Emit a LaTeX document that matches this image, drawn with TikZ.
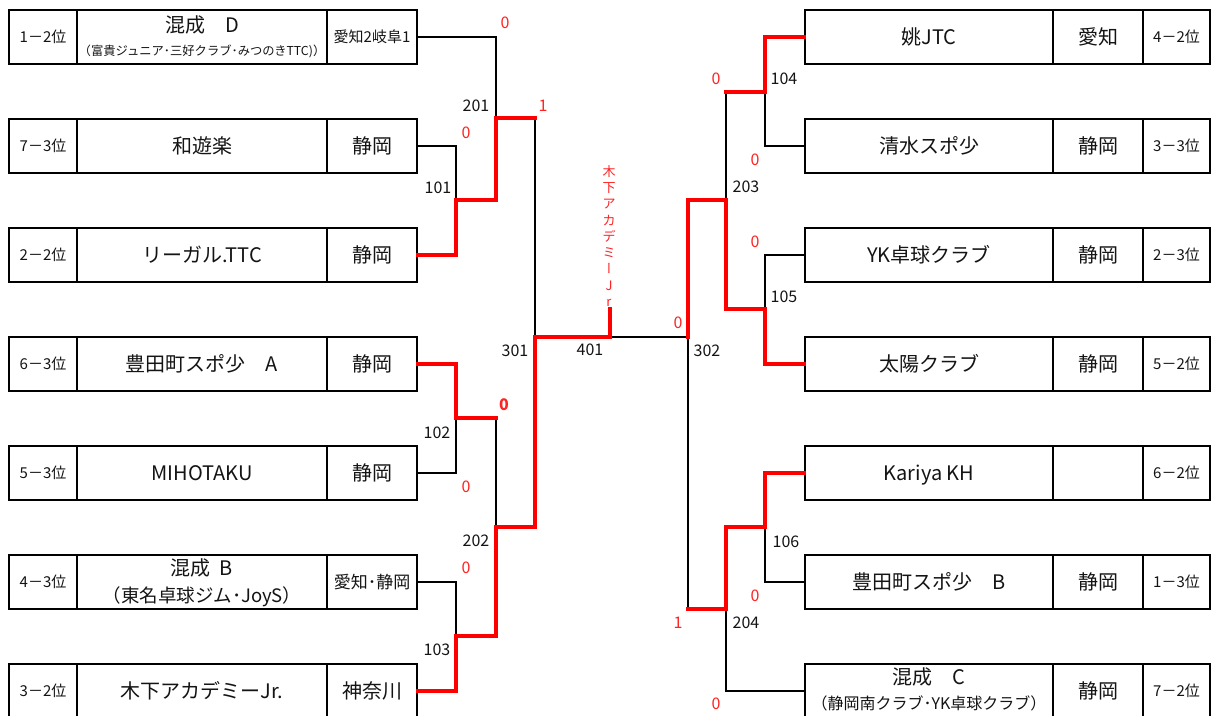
\documentclass[tikz,border=0pt]{standalone}
\usepackage{fontspec}
\setmainfont{Noto Sans CJK JP}
\newfontfamily\vertfont[RawFeature=+vert]{Noto Sans CJK JP}
\definecolor{winred}{RGB}{255,0,0}
\definecolor{scorered}{RGB}{255,35,35}
\definecolor{inkc}{RGB}{20,20,20}
\tikzset{
  cell/.style={draw=black, line width=2pt, minimum height=54pt, inner sep=0pt, text depth=0pt, text=inkc},
  rankc/.style={cell, font=\fontsize{15}{18}\selectfont, text height=11pt},
  namec/.style={cell, font=\fontsize{20}{24}\selectfont, text height=15pt},
  prefc/.style={cell, minimum width=90pt, font=\fontsize{20}{24}\selectfont, text height=15pt},
  lrank/.style={rankc, minimum width=68pt},
  rrank/.style={rankc, minimum width=67pt},
  lname/.style={namec, minimum width=250pt},
  rname/.style={namec, minimum width=248pt},
  txt/.style={inner sep=0pt, text depth=0pt, text=inkc},
  mnum/.style={txt, font=\fontsize{16}{18}\selectfont, text height=11.5pt},
  score/.style={inner sep=0pt, text depth=0pt, text=scorered, font=\fontsize{16}{18}\selectfont, text height=11.5pt},
  bline/.style={draw=black, line width=2pt},
  rline/.style={draw=winred, line width=3.6pt, line cap=rect, line join=miter},
}
\begin{document}
\begin{tikzpicture}[x=1pt,y=-1pt]
\useasboundingbox[fill=white] (0,0) rectangle (1213,715);

% ---------------- left teams ----------------
\node[lrank] (L1r) at (43,37) {1－2位};
\node[lname] (L1n) at (202,37) {};
\node[prefc, font=\fontsize{15}{18}\selectfont, text height=11pt] (L1p) at (372,37) {愛知2岐阜1};
\node[txt, font=\fontsize{20}{24}\selectfont, text height=15pt] (L1a) at (202,25) {混成　D};
\node[txt, font=\fontsize{12.3}{14}\selectfont, text height=9pt] (L1b) at (202,51) {（富貴ジュニア･三好クラブ･みつのきTTC)）};

\node[lrank] (L2r) at (43,146) {7－3位};
\node[lname] (L2n) at (202,146) {和遊楽};
\node[prefc] (L2p) at (372,146) {静岡};

\node[lrank] (L3r) at (43,255) {2－2位};
\node[lname] (L3n) at (202,255) {リーガル.TTC};
\node[prefc] (L3p) at (372,255) {静岡};

\node[lrank] (L4r) at (43,364) {6－3位};
\node[lname] (L4n) at (202,364) {豊田町スポ少　A};
\node[prefc] (L4p) at (372,364) {静岡};

\node[lrank] (L5r) at (43,473) {5－3位};
\node[lname] (L5n) at (202,473) {MIHOTAKU};
\node[prefc] (L5p) at (372,473) {静岡};

\node[lrank] (L6r) at (43,582) {4－3位};
\node[lname] (L6n) at (202,582) {};
\node[prefc, font=\fontsize{17}{20}\selectfont, text height=12.5pt] (L6p) at (372,582) {愛知･静岡};
\node[txt, font=\fontsize{20}{24}\selectfont, text height=15pt] (L6a) at (202,568) {混成\hspace{0.45em}B};
\node[txt, font=\fontsize{18.5}{22}\selectfont, text height=14pt] (L6b) at (202,595) {（東名卓球ジム･JoyS）};

\node[lrank] (L7r) at (43,691) {3－2位};
\node[lname] (L7n) at (202,691) {木下アカデミーJr.};
\node[prefc] (L7p) at (372,691) {神奈川};

% ---------------- right teams ----------------
\node[rname] (R1n) at (929,37) {姚JTC};
\node[prefc] (R1p) at (1098,37) {愛知};
\node[rrank] (R1r) at (1176.5,37) {4－2位};

\node[rname] (R2n) at (929,146) {清水スポ少};
\node[prefc] (R2p) at (1098,146) {静岡};
\node[rrank] (R2r) at (1176.5,146) {3－3位};

\node[rname] (R3n) at (929,255) {YK卓球クラブ};
\node[prefc] (R3p) at (1098,255) {静岡};
\node[rrank] (R3r) at (1176.5,255) {2－3位};

\node[rname] (R4n) at (929,364) {太陽クラブ};
\node[prefc] (R4p) at (1098,364) {静岡};
\node[rrank] (R4r) at (1176.5,364) {5－2位};

\node[rname] (R5n) at (929,473) {Kariya KH};
\node[prefc] (R5p) at (1098,473) {};
\node[rrank] (R5r) at (1176.5,473) {6－2位};

\node[rname] (R6n) at (929,582) {豊田町スポ少　B};
\node[prefc] (R6p) at (1098,582) {静岡};
\node[rrank] (R6r) at (1176.5,582) {1－3位};

\node[rname] (R7n) at (929,691) {};
\node[prefc] (R7p) at (1098,691) {静岡};
\node[rrank] (R7r) at (1176.5,691) {7－2位};
\node[txt, font=\fontsize{20}{24}\selectfont, text height=15pt] (R7a) at (929,677) {混成　C};
\node[txt, font=\fontsize{16}{19}\selectfont, text height=12pt] (R7b) at (929,703) {（静岡南クラブ･YK卓球クラブ）};

% ---------------- junctions ----------------
\coordinate (a101) at (456,200); \coordinate (o101) at (496,200);
\coordinate (a102) at (456,418); \coordinate (o102) at (496,418);
\coordinate (a103) at (456,636); \coordinate (o103) at (496,636);
\coordinate (a201) at (496,118); \coordinate (o201) at (535,118);
\coordinate (a202) at (496,527); \coordinate (o202) at (535,527);
\coordinate (a301) at (535,337);
\coordinate (fin) at (610,337);  \coordinate (finup) at (610,309);
\coordinate (a104) at (765,92);  \coordinate (o104) at (726,92);
\coordinate (a105) at (765,309); \coordinate (o105) at (726,309);
\coordinate (a106) at (765,527); \coordinate (o106) at (726,527);
\coordinate (a203) at (726,200); \coordinate (o203) at (688,200);
\coordinate (a204) at (726,609); \coordinate (o204) at (688,609);
\coordinate (a302) at (688,337);

% ---------------- black connectors ----------------
\draw[bline] (L1p.east) -| (a201);
\draw[bline] (L2p.east) -| (a101);
\draw[bline] (L5p.east) -| (a102);
\draw[bline] (L6p.east) -| (a103);
\draw[bline] (o102) -- (a202);
\draw[bline] (o201) -- (a301);
\draw[bline] (fin) -- (a302);
\draw[bline] (R2n.west) -| (a104);
\draw[bline] (o104) -- (a203);
\draw[bline] (R3n.west) -| (a105);
\draw[bline] (a302) -- (o204);
\draw[bline] (R6n.west) -| (a106);
\draw[bline] (R7n.west) -| (a204);

% ---------------- winner paths ----------------
\draw[rline] (L3p.east) -| (a101) -- (o101) -- (a201) -- (o201);
\draw[rline] (L4p.east) -| (a102) -- (o102);
\draw[rline] (L7p.east) -| (a103) -- (o103) -- (a202) -- (o202) -- (a301) -- (fin) -- (finup);
\draw[rline] (R1n.west) -| (a104) -- (o104);
\draw[rline] (a302) -- (o203) -- (a203) -- (o105) -- (a105) |- (R4n.west);
\draw[rline] (R5n.west) -| (a106) -- (o106) -- (a204) -- (o204);

% ---------------- match numbers ----------------
\node[mnum] (n101) at (438,188) {101};
\node[mnum] (n102) at (437,433) {102};
\node[mnum] (n103) at (437,650) {103};
\node[mnum] (n201) at (476,106) {201};
\node[mnum] (n202) at (476,541) {202};
\node[mnum] (n301) at (515,351) {301};
\node[mnum] (n401) at (590,350) {401};
\node[mnum] (n302) at (707,351) {302};
\node[mnum] (n203) at (746,187) {203};
\node[mnum] (n204) at (746,623) {204};
\node[mnum] (n104) at (784,79) {104};
\node[mnum] (n105) at (784,297) {105};
\node[mnum] (n106) at (786,542) {106};

% ---------------- scores ----------------
\node[score] (s1) at (505,23) {0};
\node[score] (s2) at (543,106) {1};
\node[score] (s3) at (466,133) {0};
\node[score, font=\fontsize{16}{18}\selectfont\bfseries] (s4) at (504,405) {0};
\node[score] (s5) at (466,487) {0};
\node[score] (s6) at (466,568) {0};
\node[score] (s7) at (716,79) {0};
\node[score] (s8) at (755,160) {0};
\node[score] (s9) at (755,242) {0};
\node[score] (s10) at (678,323) {0};
\node[score] (s11) at (755,596) {0};
\node[score] (s12) at (678,623) {1};
\node[score] (s13) at (716,704) {0};

% ---------------- champion ----------------
\node[inner sep=0pt, text=scorered, align=center, font=\fontsize{13}{16.25}\selectfont] (champ) at (609,236)
  {木\\下\\ア\\カ\\デ\\ミ\\{\vertfont ー}\\J\\r};
\end{tikzpicture}
\end{document}
